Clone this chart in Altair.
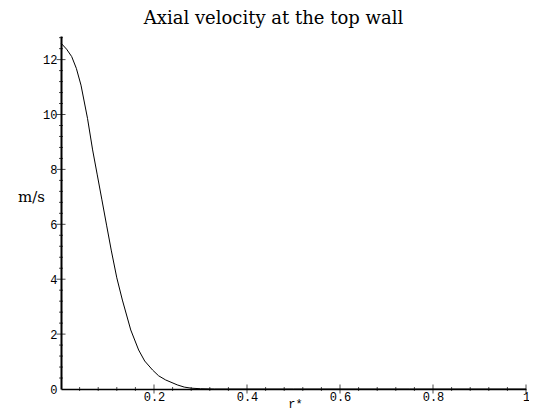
import altair as alt
import pandas as pd

# curve
r_vals = [0.0, 0.012, 0.023, 0.033, 0.043, 0.057, 0.068, 0.078, 0.088, 0.098, 0.108,
          0.12, 0.132, 0.15, 0.167, 0.18, 0.197, 0.21, 0.225, 0.25, 0.265, 0.28,
          0.3, 0.33, 0.5, 0.75, 1.0]
v_vals = [12.6, 12.38, 12.11, 11.68, 11.07, 9.86, 8.71, 7.8, 6.89, 5.97, 5.06,
          4.05, 3.24, 2.15, 1.42, 1.02, 0.69, 0.48, 0.33, 0.15, 0.07, 0.03,
          0.01, 0.0, 0.0, 0.0, 0.0]

x_labels = [0.2, 0.4, 0.6, 0.8, 1.0]
y_labels = [0, 2, 4, 6, 8, 10, 12]
x_major = [0.2, 0.4, 0.6, 0.8, 1.0]
x_minor = [0.04, 0.08, 0.12, 0.16, 0.24, 0.28, 0.32, 0.36, 0.44, 0.48, 0.52, 0.56,
           0.64, 0.68, 0.72, 0.76, 0.84, 0.88, 0.92, 0.96]
y_major = [2, 4, 6, 8, 10, 12]
y_minor = [0.4, 0.8, 1.2, 1.6, 2.4, 2.8, 3.2, 3.6, 4.4, 4.8, 5.2, 5.6, 6.4, 6.8, 7.2, 7.6,
           8.4, 8.8, 9.2, 9.6, 10.4, 10.8, 11.2, 11.6, 12.4, 12.8]
y_top = 12.86

curve = pd.DataFrame({"r": r_vals, "v": v_vals})

mono = "Liberation Mono"
serif = "DejaVu Serif"

xscale = alt.Scale(domain=[0, 1], nice=False, zero=False)
yscale = alt.Scale(domain=[0, y_top], nice=False)

line = alt.Chart(curve).mark_line(color="black", strokeWidth=1).encode(
    x=alt.X("r:Q", scale=xscale,
            axis=alt.Axis(values=x_labels, format="~g", ticks=False, grid=False,
                          domainColor="black", domainWidth=1.5, labelFlush=False,
                          labelFont=mono, labelFontSize=12, labelColor="black",
                          labelPadding=2, title="r*", titleFont=mono,
                          titleFontSize=12, titleFontWeight="normal",
                          titleColor="black", titleX=234, titleY=18,
                          titleBaseline="alphabetic", titleAlign="center")),
    y=alt.Y("v:Q", scale=yscale,
            axis=alt.Axis(values=y_labels, ticks=False, grid=False,
                          domainColor="black", domainWidth=2,
                          labelFont=mono, labelFontSize=12, labelColor="black",
                          labelPadding=4, title="m/s", titleFont=serif,
                          titleFontSize=15, titleFontWeight="normal",
                          titleColor="black", titleAngle=0, titleX=-30,
                          titleY=160, titleAlign="center",
                          titleBaseline="middle")),
)

def xticks(vals, size):
    return alt.Chart(pd.DataFrame({"t": vals})).mark_tick(
        orient="vertical", color="black", size=size, thickness=1).encode(
        x=alt.X("t:Q", scale=xscale), y=alt.datum(0))

def yticks(vals, size):
    return alt.Chart(pd.DataFrame({"t": vals})).mark_tick(
        orient="horizontal", color="black", size=size, thickness=1).encode(
        y=alt.Y("t:Q", scale=yscale), x=alt.datum(0))

chart = alt.layer(
    line,
    xticks(x_major, 9), xticks(x_minor, 4),
    yticks(y_major, 9), yticks(y_minor, 4),
).properties(
    width=465, height=353,
    background="white",
    title=alt.TitleParams("Axial velocity at the top wall", font=serif,
                          fontSize=18, fontWeight="normal", color="black",
                          anchor="middle", dx=-20, offset=12, dy=18,
                          baseline="alphabetic"),
    autosize=alt.AutoSizeParams(type="none"),
    padding={"left": 53, "top": 28, "right": 3, "bottom": 22},
).configure_view(stroke=None)

chart.save("out.html", embed_options={"renderer": "svg", "actions": False})
